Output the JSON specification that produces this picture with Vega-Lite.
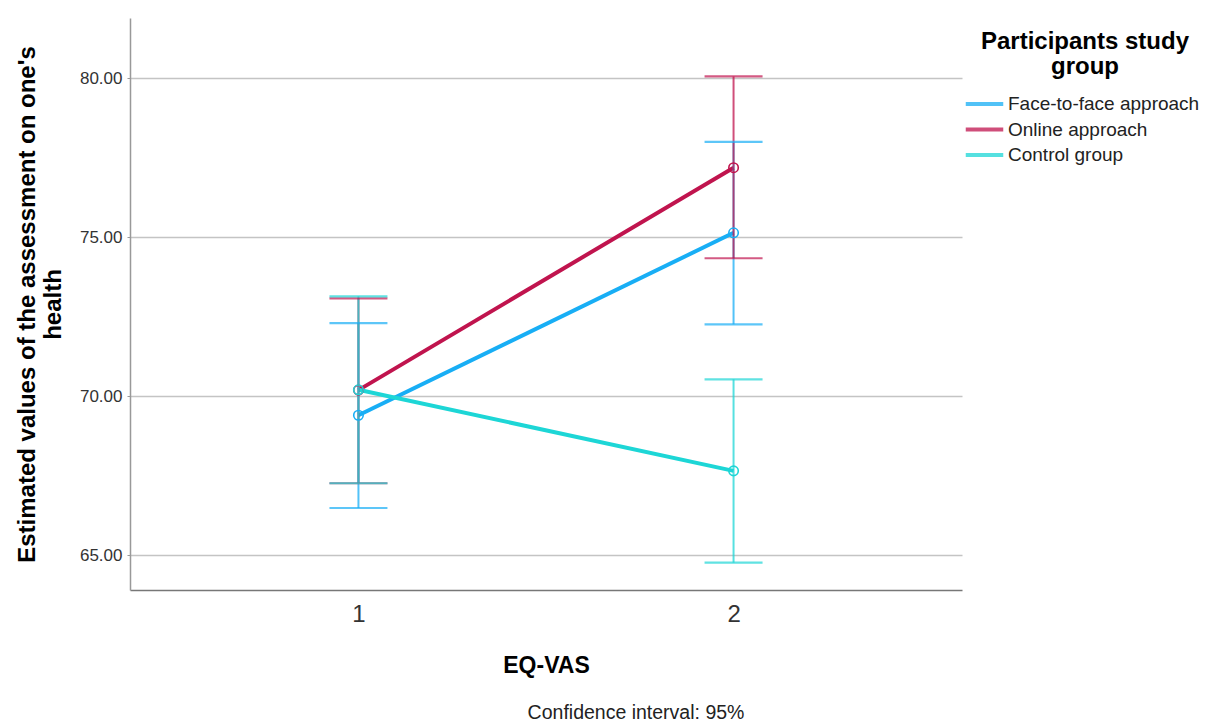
{
  "$schema": "https://vega.github.io/schema/vega-lite/v6.json",
  "width": 832,
  "height": 572,
  "autosize": {"type": "none"},
  "padding": {"left": 130, "top": 18, "right": 246, "bottom": 132},
  "background": "white",
  "title": {
    "text": "Confidence interval: 95%",
    "orient": "bottom",
    "anchor": "middle",
    "dx": 90,
    "offset": 27,
    "fontSize": 19.5,
    "fontWeight": "normal",
    "font": "Liberation Sans",
    "color": "#222222"
  },
  "data": {
    "values": [
      {"group": "Face-to-face approach", "time": "1", "mean": 69.40, "lo": 66.48, "hi": 72.30},
      {"group": "Face-to-face approach", "time": "2", "mean": 75.14, "lo": 72.26, "hi": 78.00},
      {"group": "Online approach", "time": "1", "mean": 70.19, "lo": 67.26, "hi": 73.08},
      {"group": "Online approach", "time": "2", "mean": 77.19, "lo": 74.34, "hi": 80.06},
      {"group": "Control group", "time": "1", "mean": 70.20, "lo": 67.26, "hi": 73.14},
      {"group": "Control group", "time": "2", "mean": 67.65, "lo": 64.76, "hi": 70.53}
    ]
  },
  "encoding": {
    "x": {
      "field": "time",
      "type": "ordinal",
      "sort": ["1", "2"],
      "scale": {"type": "point", "padding": 0.609},
      "axis": {
        "title": "EQ-VAS",
        "labelAngle": 0,
        "labelFontSize": 24,
        "labelColor": "#333333",
        "labelPadding": 12,
        "ticks": false,
        "domainColor": "#777777",
        "domainWidth": 1.5,
        "titleFontSize": 23,
        "titleFontWeight": "bold",
        "titleColor": "#000000",
        "titlePadding": 28
      }
    },
    "color": {
      "field": "group",
      "type": "nominal",
      "sort": ["Face-to-face approach", "Online approach", "Control group"],
      "scale": {
        "domain": ["Face-to-face approach", "Online approach", "Control group"],
        "range": ["#18AEF5", "#C0144E", "#1DD6D6"]
      },
      "legend": {
        "title": ["Participants study", "group"],
        "orient": "none",
        "legendX": 840,
        "legendY": 12,
        "titleFontSize": 24,
        "titleFontWeight": "bold",
        "titleColor": "#000000",
        "titleAnchor": "middle",
        "titleAlign": "center",
        "titleLineHeight": 25,
        "titlePadding": 10.5,
        "titleLimit": 400,
        "symbolType": "M-1.5,0H1.5",
        "symbolSize": 625,
        "symbolStrokeWidth": 4,
        "symbolFillColor": "transparent",
        "labelFontSize": 19,
        "labelColor": "#222222",
        "labelOffset": 9,
        "labelLimit": 400,
        "rowPadding": 0.5
      }
    }
  },
  "layer": [
    {
      "mark": {"type": "line", "strokeWidth": 4},
      "encoding": {
        "y": {
          "field": "mean",
          "type": "quantitative",
          "scale": {"domain": [63.9, 81.9], "nice": false, "zero": false},
          "axis": {
            "title": ["Estimated values of the assessment on one's", "health"],
            "values": [65, 70, 75, 80],
            "format": ".2f",
            "labelFontSize": 17,
            "labelColor": "#333333",
            "labelPadding": 5,
            "tickSize": 3,
            "tickColor": "#999999",
            "domainColor": "#999999",
            "domainWidth": 1.5,
            "grid": true,
            "gridColor": "#C4C4C4",
            "gridWidth": 1.5,
            "titleFontSize": 24,
            "titleFontWeight": "bold",
            "titleColor": "#000000",
            "titleLineHeight": 26,
            "titlePadding": 14
          }
        }
      }
    },
    {
      "mark": {"type": "rule", "strokeWidth": 2, "opacity": 0.75},
      "encoding": {
        "y": {"field": "lo", "type": "quantitative"},
        "y2": {"field": "hi"}
      }
    },
    {
      "mark": {"type": "tick", "orient": "horizontal", "size": 58, "thickness": 2.2},
      "encoding": {"y": {"field": "lo", "type": "quantitative"}}
    },
    {
      "mark": {"type": "tick", "orient": "horizontal", "size": 58, "thickness": 2.2},
      "encoding": {"y": {"field": "hi", "type": "quantitative"}}
    },
    {
      "mark": {"type": "point", "filled": false, "size": 90, "strokeWidth": 1.6, "opacity": 1},
      "encoding": {"y": {"field": "mean", "type": "quantitative"}}
    }
  ],
  "config": {
    "view": {"stroke": null},
    "font": "Liberation Sans"
  }
}
